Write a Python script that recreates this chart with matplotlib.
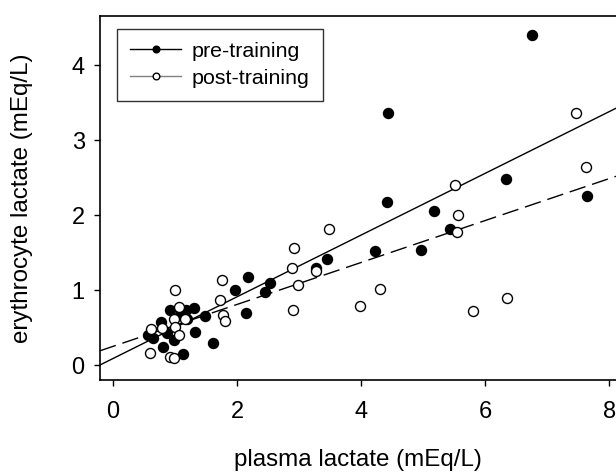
import matplotlib
matplotlib.use('Agg')
import matplotlib.pyplot as plt
from matplotlib.lines import Line2D
import numpy as np

plt.rcParams['font.family'] = ['Liberation Sans', 'DejaVu Sans']

# plasma vs erythrocyte lactate, mEq/L
pre_x = [0.57, 0.65, 0.77, 0.80, 0.87, 0.92, 0.98, 1.08, 1.13, 1.18, 1.20, 1.30, 1.32,
         1.48, 1.61, 1.97, 2.15, 2.18, 2.45, 2.53, 3.27, 3.45, 4.23, 4.41, 4.43, 4.96,
         5.18, 5.43, 6.34, 6.75, 7.65]
pre_y = [0.40, 0.36, 0.58, 0.24, 0.43, 0.73, 0.33, 0.67, 0.15, 0.74, 0.61, 0.76, 0.44,
         0.65, 0.30, 1.00, 0.69, 1.17, 0.98, 1.10, 1.30, 1.42, 1.52, 2.18, 3.36, 1.54,
         2.05, 1.82, 2.48, 4.41, 2.26]

post_x = [0.60, 0.61, 0.79, 0.92, 0.98, 0.98, 1.00, 1.00, 1.06, 1.07, 1.16, 1.73, 1.75,
          1.78, 1.81, 2.88, 2.90, 2.91, 2.98, 3.27, 3.49, 3.99, 4.31, 5.51, 5.54, 5.57,
          5.80, 6.36, 7.46, 7.63]
post_y = [0.16, 0.48, 0.49, 0.11, 0.10, 0.61, 0.51, 1.00, 0.40, 0.78, 0.61, 0.87, 1.14,
          0.67, 0.59, 1.30, 0.73, 1.56, 1.07, 1.26, 1.82, 0.79, 1.01, 2.41, 1.77, 2.00,
          0.72, 0.89, 3.36, 2.65]

# fitted lines: intercept, slope
pre_fit = (0.087, 0.412)
post_fit = (0.249, 0.280)

xlim = (-0.21, 8.11)
ylim = (-0.20, 4.66)

fig = plt.figure(figsize=(6.16, 4.74), dpi=100)
ax = fig.add_axes([100 / 616, 94 / 474, 516 / 616, 364 / 474])

xx = np.array(xlim)
ax.plot(xx, pre_fit[0] + pre_fit[1] * xx, color='black', lw=1.0, zorder=2)
ax.plot(xx, post_fit[0] + post_fit[1] * xx, color='black', lw=1.0,
        dashes=[12, 5], zorder=2)

ax.plot(pre_x, pre_y, 'o', color='black', ms=7.2, mec='black', mew=1.0, zorder=3)
ax.plot(post_x, post_y, 'o', mfc='white', mec='black', ms=7.2, mew=1.0, zorder=4)

ax.set_xlim(*xlim)
ax.set_ylim(*ylim)
ax.set_xticks([0, 2, 4, 6, 8])
ax.set_yticks([0, 1, 2, 3, 4])
ax.tick_params(direction='out', length=4, width=1.0, labelsize=17)
ax.tick_params(axis='x', pad=11)
ax.tick_params(axis='y', pad=7)

for s in ['top', 'left', 'bottom']:
    ax.spines[s].set_linewidth(1.2)
ax.spines['right'].set_visible(False)

ax.set_xlabel('plasma lactate (mEq/L)', fontsize=17.4)
ax.set_ylabel('erythrocyte lactate (mEq/L)', fontsize=17.4)
ax.xaxis.set_label_coords(0.5, -0.19)
ax.yaxis.set_label_coords(-0.13, 0.5)

handles = [
    Line2D([], [], color='black', lw=1.0, marker='o', ms=4.8, mfc='black', mec='black'),
    Line2D([], [], color='gray', lw=1.0, marker='o', ms=4.8, mfc='white', mec='black'),
]
leg = ax.legend(handles, ['pre-training', 'post-training'], loc='upper left',
                bbox_to_anchor=(117 / 616, 1 - 29 / 474), bbox_transform=fig.transFigure,
                fontsize=15.4, frameon=True, fancybox=False, borderaxespad=0,
                handlelength=2.4, handletextpad=0.5, labelspacing=0.38, borderpad=0.6)
leg.get_frame().set_edgecolor('black')
leg.get_frame().set_linewidth(1.0)

fig.savefig('out.png', dpi=100)
